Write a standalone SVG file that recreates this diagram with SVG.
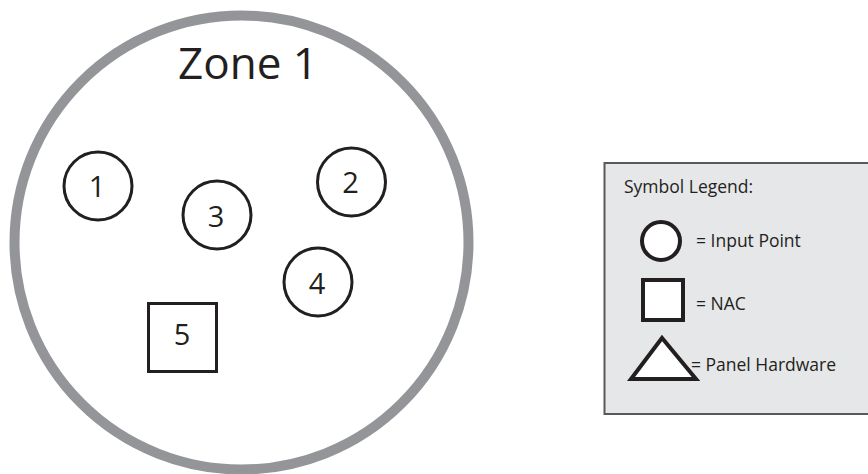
<svg xmlns="http://www.w3.org/2000/svg" width="868" height="474" viewBox="0 0 868 474">
<style>
.sym{fill:#fff;stroke:#231f20;stroke-width:3}
.lsym{fill:#fff;stroke:#231f20;stroke-width:4}
.num{font-family:"Open Sans","Liberation Sans",sans-serif;font-size:29px;fill:#231f20;text-anchor:middle}
.leg{font-family:"Open Sans","Liberation Sans",sans-serif;font-size:17.5px;fill:#231f20}
</style>
<rect width="868" height="474" fill="#fff"/>
<g id="zone1">
<circle cx="241.5" cy="242.5" r="227" fill="#fff" stroke="#939598" stroke-width="10"/>
<text x="248" y="79" font-family="'Open Sans','Liberation Sans',sans-serif" font-size="44" fill="#231f20" text-anchor="middle">Zone 1</text>
</g>
<g id="node1"><circle class="sym" cx="98" cy="186" r="34"/><text class="num" x="97" y="197">1</text></g>
<g id="node2"><circle class="sym" cx="351.5" cy="182" r="34"/><text class="num" x="350.5" y="193">2</text></g>
<g id="node3"><circle class="sym" cx="217" cy="215" r="34"/><text class="num" x="216" y="226.5">3</text></g>
<g id="node4"><circle class="sym" cx="318" cy="282" r="34"/><text class="num" x="317" y="294">4</text></g>
<g id="node5"><rect class="sym" x="148.5" y="303.5" width="68" height="68"/><text class="num" x="182" y="345">5</text></g>
<g id="connectors"></g>
<g id="legend">
<rect x="604.5" y="163" width="270" height="251" fill="#e6e7e8" stroke="#58595b" stroke-width="2"/>
<text class="leg" x="624" y="193">Symbol Legend:</text>
<circle class="lsym" cx="661" cy="241" r="19"/>
<text class="leg" x="696" y="247">= Input Point</text>
<rect class="lsym" x="643" y="280" width="40" height="40"/>
<text class="leg" x="696" y="310">= NAC</text>
<polygon class="lsym" points="662,338 631,379 696,379"/>
<text class="leg" x="691" y="371">= Panel Hardware</text>
</g>
</svg>
